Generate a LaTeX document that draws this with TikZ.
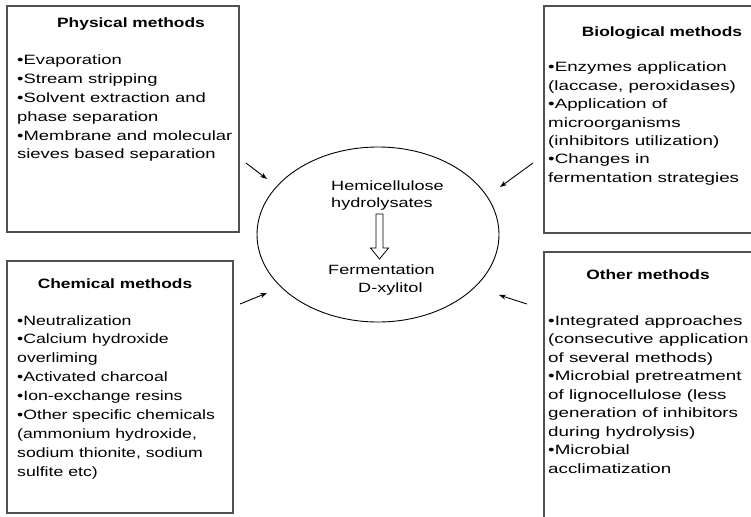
\documentclass[tikz,border=0pt]{standalone}
\usepackage{fontspec}
\usepackage{graphicx}
\setmainfont{Liberation Sans}[FakeStretch=1.35]
\usetikzlibrary{arrows.meta,shapes.geometric}
\definecolor{boxgray}{HTML}{505050}
\newcommand\hsc[2]{\scalebox{#1}[1]{#2}}
\begin{document}
\begin{tikzpicture}[x=1pt,y=-1pt,
  box/.style={draw=boxgray, line width=1.2pt, inner sep=0, outer sep=0, anchor=north west},
  title/.style={font=\bfseries\fontsize{13.5}{18.6}\selectfont, inner sep=0, anchor=base},
  body/.style={font=\fontsize{13.5}{#1}\selectfont, inner sep=0, anchor=base west},
  ctext/.style={font=\fontsize{13.4}{17}\selectfont, inner sep=0, anchor=base west},
  arr/.style={-{Stealth[length=7pt,width=5pt]}, line width=0.9pt}]
\useasboundingbox (0,0) rectangle (751,516);
\fill[white] (0,0) rectangle (751,516);
\clip (0,0) rectangle (751,516);

% boxes
\node[box, minimum width=232pt, minimum height=226pt] (phys) at (7,6) {};
\node[box, minimum width=216pt, minimum height=227pt] (bio) at (544,6) {};
\node[box, minimum width=226pt, minimum height=252pt] (chem) at (7,261) {};
\node[box, minimum width=216pt, minimum height=280pt] (oth) at (544,252) {};

% titles
\node[title] (physT) at (131,28) {\hsc{0.953}{Physical methods}};
\node[title] (bioT) at (662,37) {\hsc{0.953}{Biological methods}};
\node[title] (chemT) at (115,288) {\hsc{0.953}{Chemical methods}};
\node[title] (othT) at (648,279) {\hsc{0.953}{Other methods}};

% bodies
\node[body=18.8] (physB) at (17,65) {\hsc{1.01}{\parbox[t]{300pt}{\raggedright
•Evaporation\\
•Stream stripping\\
•Solvent extraction and\\
phase separation\\
•Membrane and molecular\\
sieves based separation}}};
\node[body=18.4] (bioB) at (548,72) {\hsc{1.03}{\parbox[t]{300pt}{\raggedright
•Enzymes application\\
(laccase, peroxidases)\\
•Application of\\
microorganisms\\
(inhibitors utilization)\\
•Changes in\\
fermentation strategies}}};
\node[body=18.9] (chemB) at (17,325) {\hsc{0.97}{\parbox[t]{300pt}{\raggedright
•Neutralization\\
•Calcium hydroxide\\
overliming\\
•Activated charcoal\\
•Ion-exchange resins\\
•Other specific chemicals\\
(ammonium hydroxide,\\
sodium thionite, sodium\\
sulfite etc)}}};
\node[body=18.5] (othB) at (548,325) {\hsc{1.03}{\parbox[t]{300pt}{\raggedright
•Integrated approaches\\
(consecutive application\\
of several methods)\\
•Microbial pretreatment\\
of lignocellulose (less\\
generation of inhibitors\\
during hydrolysis)\\
•Microbial\\
acclimatization}}};

% centre ellipse
\node[draw, ellipse, line width=0.9pt, minimum width=242pt, minimum height=175pt, inner sep=0] (ell) at (378,234.5) {};
\node[ctext] (hemi) at (331,190.5) {Hemicellulose};
\node[ctext] (hydro) at (331,207.5) {hydrolysates};
\node[ctext] (ferm) at (328,274) {Fermentation};
\node[ctext] (xyl) at (358,292) {D-xylitol};
\draw[line width=0.8pt, fill=white] (376,214) -- (383,214) -- (383,248) -- (388.5,248) -- (379.5,259) -- (370.5,248) -- (376,248) -- cycle;

% arrows
\coordinate (tlT) at (246,163); \coordinate (tlH) at (267,179);
\coordinate (trT) at (533,163); \coordinate (trH) at (500,187);
\coordinate (blT) at (240,304); \coordinate (blH) at (267,293);
\coordinate (brT) at (527,304); \coordinate (brH) at (499,295);
\draw[arr] (tlT) -- (tlH);
\draw[arr] (trT) -- (trH);
\draw[arr] (blT) -- (blH);
\draw[arr] (brT) -- (brH);
\end{tikzpicture}
\end{document}
